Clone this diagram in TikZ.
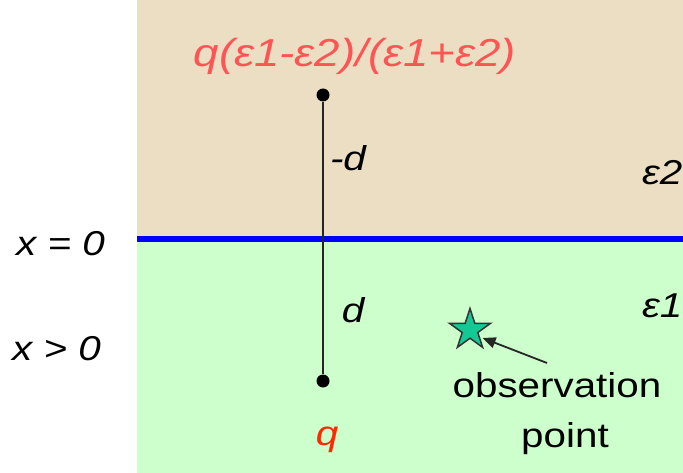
\documentclass[tikz,border=0pt]{standalone}
\usepackage{fontspec}
\setmainfont[FakeStretch=1.17]{Liberation Sans}
\usetikzlibrary{shapes.geometric,arrows.meta}
\definecolor{tan}{RGB}{236,222,194}
\definecolor{lgreen}{RGB}{204,255,204}
\definecolor{lblue}{RGB}{0,0,255}
\definecolor{lred}{RGB}{255,84,84}
\definecolor{qred}{RGB}{255,40,0}
\definecolor{teal}{RGB}{20,200,150}
\tikzset{
  lbl/.style={inner sep=0pt, font=\fontsize{34.5}{40}\selectfont\itshape, anchor=base},
  plain/.style={inner sep=0pt, font=\fontsize{34.5}{40}\selectfont, anchor=base},
  dot/.style={circle, fill=black, inner sep=0pt, minimum size=13pt},
}
\begin{document}
\begin{tikzpicture}[x=1pt,y=-1pt]
\useasboundingbox (0,0) rectangle (683,473);
\clip (0,0) rectangle (683,473);
\fill[tan] (137,0) rectangle (683,238);
\fill[lgreen] (137,240) rectangle (683,473);
\draw[lblue, line width=6pt] (137,239) -- (683,239);
\node[dot] (top) at (323,95) {};
\node[dot] (bot) at (323,381) {};
\draw[black!85, line width=2pt] (top) -- (bot);
\node[lbl, text=lred, font=\fontsize{39}{44}\selectfont\itshape] (img) at (355,67) {q(ε1-ε2)/(ε1+ε2)};
\node[lbl] (md) at (348,171) {-d};
\node[lbl] (pd) at (353,322) {d};
\node[lbl, text=qred] (q) at (327,445) {q};
\node[lbl, anchor=base west] (e2) at (642,185) {ε2};
\node[lbl, anchor=base west] (e1) at (642,317) {ε1};
\node[lbl, anchor=base west] (x0) at (16,255) {x = 0};
\node[lbl, anchor=base west] (xg) at (12,360) {x > 0};
\node[star, star points=5, star point ratio=2.618, minimum size=43pt, inner sep=0pt, fill=teal, draw=black!80, line width=1.5pt] (star) at (470,330) {};
\node[plain] (obs) at (557,397) {observation};
\node[plain] (pt) at (565,447) {point};
\coordinate (as) at (547,363);
\draw[black!85, line width=1.8pt, -{Triangle[length=13pt,width=11pt]}] (as) -- (star.east |- 0,338);
\end{tikzpicture}
\end{document}
